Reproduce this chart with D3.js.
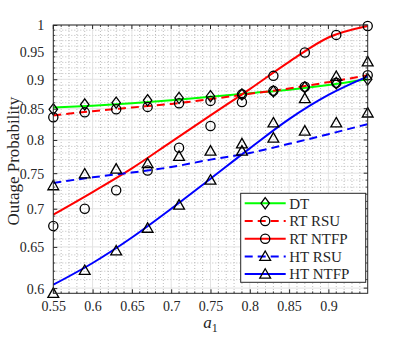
<!DOCTYPE html>
<html>
<head>
<meta charset="utf-8">
<script src="https://cdn.jsdelivr.net/npm/d3@7"></script>
<style>
  html, body { margin: 0; padding: 0; background: #fff; }
  svg { display: block; }
</style>
</head>
<body>
<svg id="chart" width="407" height="337"></svg>
<script>
// ---- Data ----
const xTicks = [0.55, 0.6, 0.65, 0.7, 0.75, 0.8, 0.85, 0.9];
const yTicks = [0.6, 0.65, 0.7, 0.75, 0.8, 0.85, 0.9, 0.95, 1];
const yTickLabels = ["0.6", "0.65", "0.7", "0.75", "0.8", "0.85", "0.9", "0.95", "1"];
const xTickLabels = ["0.55", "0.6", "0.65", "0.7", "0.75", "0.8", "0.85", "0.9"];

// theory curves
const curveX = [0.55, 0.6, 0.65, 0.7, 0.75, 0.8, 0.85, 0.9, 0.95];
const dtCurve     = [0.852, 0.855, 0.859, 0.864, 0.870, 0.876, 0.882, 0.890, 0.900];
const rtRsuCurve  = [0.839, 0.846, 0.852, 0.858, 0.866, 0.875, 0.884, 0.895, 0.907];
const rtNtfpCurve = [0.692, 0.723, 0.757, 0.797, 0.839, 0.883, 0.931, 0.976, 0.998];
const htRsuCurve  = [0.736, 0.744, 0.751, 0.759, 0.770, 0.780, 0.794, 0.809, 0.825];
const htNtfpCurve = [0.604, 0.630, 0.662, 0.700, 0.742, 0.787, 0.833, 0.873, 0.905];

// simulation points
const simX = [0.55, 0.59, 0.63, 0.67, 0.71, 0.75, 0.79, 0.83, 0.87, 0.91, 0.95];
const dtSim     = [0.849, 0.857, 0.860, 0.864, 0.868, 0.871, 0.874, 0.879, 0.886, 0.893, 0.900];
const rtRsuSim  = [0.836, 0.844, 0.849, 0.853, 0.859, 0.863, 0.861, 0.880, 0.887, 0.894, 0.907];
const rtNtfpSim = [0.677, 0.700, 0.7255, 0.754, 0.788, 0.822, 0.874, 0.906, 0.948, 0.981, 0.998];
const htRsuSim  = [0.732, 0.749, 0.756, 0.764, 0.775, 0.783, 0.794, 0.803, 0.814, 0.827, 0.843];
const htNtfpSim = [0.594, 0.621, 0.645, 0.674, 0.705, 0.740, 0.783, 0.827, 0.867, 0.905, 0.931];

const legendLabels = ["DT", "RT RSU", "RT NTFP", "HT RSU", "HT NTFP"];

// ---- Layout ----
const FONT = "'Liberation Serif', 'Times New Roman', serif";
const svg = d3.select("#chart").attr("font-family", FONT);
const L = 53.3, R = 367.7, T = 25, B = 293.3;
const x = d3.scaleLinear().domain([0.55, 0.95]).range([L, R]);
const y = d3.scaleLog().domain([0.594, 1]).range([B, T]);
const axisColor = "#262626";

const series = [
  {name: legendLabels[0], curve: dtCurve, sim: dtSim, color: "#00ff00", dash: null, marker: "diamond"},
  {name: legendLabels[1], curve: rtRsuCurve, sim: rtRsuSim, color: "#ff0000", dash: "8,5", marker: "circle"},
  {name: legendLabels[2], curve: rtNtfpCurve, sim: rtNtfpSim, color: "#ff0000", dash: null, marker: "circle"},
  {name: legendLabels[3], curve: htRsuCurve, sim: htRsuSim, color: "#0000ff", dash: "8,5", marker: "triangle"},
  {name: legendLabels[4], curve: htNtfpCurve, sim: htNtfpSim, color: "#0000ff", dash: null, marker: "triangle"}
];

// ---- Grid ----
const grid = svg.append("g");
const minorX = d3.range(56, 95).map(v => v / 100);
const minorY = d3.range(60, 101).map(v => v / 100);
const majorXSet = new Set([0.55,0.6,0.65,0.7,0.75,0.8,0.85,0.9,0.95].map(v => v.toFixed(2)));
const majorYSet = new Set(yTicks.map(v => v.toFixed(2)));

grid.selectAll(".mx").data(minorX.filter(v => !majorXSet.has(v.toFixed(2)))).enter().append("line")
  .attr("x1", d => x(d)).attr("x2", d => x(d)).attr("y1", T).attr("y2", B)
  .attr("stroke", "#bdbdbd").attr("stroke-width", 1).attr("stroke-dasharray", "1,2");
grid.selectAll(".my").data(minorY.filter(v => !majorYSet.has(v.toFixed(2)))).enter().append("line")
  .attr("y1", d => y(d)).attr("y2", d => y(d)).attr("x1", L).attr("x2", R)
  .attr("stroke", "#bdbdbd").attr("stroke-width", 1).attr("stroke-dasharray", "1,2");
grid.selectAll(".gx").data(xTicks).enter().append("line")
  .attr("x1", d => x(d)).attr("x2", d => x(d)).attr("y1", T).attr("y2", B)
  .attr("stroke", "#e3e3e3").attr("stroke-width", 1);
grid.selectAll(".gy").data(yTicks).enter().append("line")
  .attr("y1", d => y(d)).attr("y2", d => y(d)).attr("x1", L).attr("x2", R)
  .attr("stroke", "#e3e3e3").attr("stroke-width", 1);

// ---- Axes (box with inward ticks) ----
const axG = svg.append("g");
const xAxis = d3.axisBottom(x).tickValues(xTicks).tickSizeInner(-4).tickSizeOuter(0)
  .tickFormat((d, i) => xTickLabels[i]).tickPadding(8);
const yAxis = d3.axisLeft(y).tickValues(yTicks).tickSizeInner(-4).tickSizeOuter(0)
  .tickFormat((d, i) => yTickLabels[i]).tickPadding(9);

const gx = axG.append("g").attr("transform", `translate(0,${B})`).call(xAxis);
const gy = axG.append("g").attr("transform", `translate(${L},0)`).call(yAxis);
[gx, gy].forEach(g => {
  g.attr("font-family", FONT).attr("font-size", 14);
  g.select(".domain").remove();
  g.selectAll("line").attr("stroke", axisColor);
  g.selectAll("text").attr("fill", axisColor).attr("font-family", FONT).attr("font-size", 14);
});
gy.selectAll("text").attr("dy", "0.35em");

// top/right ticks
axG.selectAll(".tt").data(xTicks).enter().append("line")
  .attr("x1", d => x(d)).attr("x2", d => x(d)).attr("y1", T).attr("y2", T + 4).attr("stroke", axisColor);
axG.selectAll(".rt").data(yTicks).enter().append("line")
  .attr("y1", d => y(d)).attr("y2", d => y(d)).attr("x1", R).attr("x2", R - 4).attr("stroke", axisColor);
// minor ticks
const minorXt = minorX.filter(v => !majorXSet.has(v.toFixed(2)));
const minorYt = minorY.filter(v => !majorYSet.has(v.toFixed(2)));
[[B, -2], [T, 2]].forEach(([yy, dd]) => {
  axG.append("g").selectAll("line").data(minorXt).enter().append("line")
    .attr("x1", d => x(d)).attr("x2", d => x(d)).attr("y1", yy).attr("y2", yy + dd)
    .attr("stroke", axisColor).attr("stroke-width", 0.8);
});
[[L, 2], [R, -2]].forEach(([xx, dd]) => {
  axG.append("g").selectAll("line").data(minorYt).enter().append("line")
    .attr("y1", d => y(d)).attr("y2", d => y(d)).attr("x1", xx).attr("x2", xx + dd)
    .attr("stroke", axisColor).attr("stroke-width", 0.8);
});

// ---- Curves ----
const plot = svg.append("g");
const lineGen = d3.line().x(d => x(d[0])).y(d => y(d[1])).curve(d3.curveMonotoneX);
series.forEach(s => {
  plot.append("path")
    .datum(curveX.map((v, i) => [v, s.curve[i]]))
    .attr("d", lineGen)
    .attr("fill", "none").attr("stroke", s.color).attr("stroke-width", 2)
    .attr("stroke-dasharray", s.dash);
});

// ---- Markers ----
function drawMarker(g, type, cx, cy) {
  if (type === "circle") {
    g.append("circle").attr("cx", cx).attr("cy", cy).attr("r", 4.6)
      .attr("fill", "none").attr("stroke", "#000").attr("stroke-width", 1.3);
  } else if (type === "triangle") {
    const h = 5.4;
    g.append("path").attr("d", `M${cx},${cy - h}L${cx + h},${cy + h * 0.75}L${cx - h},${cy + h * 0.75}Z`)
      .attr("fill", "none").attr("stroke", "#000").attr("stroke-width", 1.3);
  } else {
    const w = 4.2, h = 5.6;
    g.append("path").attr("d", `M${cx},${cy - h}L${cx + w},${cy}L${cx},${cy + h}L${cx - w},${cy}Z`)
      .attr("fill", "none").attr("stroke", "#000").attr("stroke-width", 1.3);
  }
}
series.forEach(s => {
  const g = plot.append("g");
  simX.forEach((v, i) => drawMarker(g, s.marker, x(v), y(s.sim[i])));
});

// axis box
svg.append("rect").attr("x", L).attr("y", T).attr("width", R - L).attr("height", B - T)
  .attr("fill", "none").attr("stroke", axisColor).attr("stroke-width", 1);

// ---- Labels ----
svg.append("text").attr("transform", `translate(19,${(T + B) / 2 + 2}) rotate(-90)`)
  .attr("text-anchor", "middle").attr("font-size", 17).attr("font-family", FONT).attr("fill", axisColor)
  .text("Outage Probability");
const xl = svg.append("text").attr("x", (L + R) / 2).attr("y", 328)
  .attr("text-anchor", "middle").attr("font-size", 17).attr("font-family", FONT).attr("fill", axisColor);
xl.append("tspan").attr("font-style", "italic").text("a");
xl.append("tspan").attr("dy", 4).attr("font-size", 12).text("1");

// ---- Legend ----
const lg = svg.append("g");
const lx = 240.7, ly = 193.3, lw = 125, lh = 89;
lg.append("rect").attr("x", lx).attr("y", ly).attr("width", lw).attr("height", lh)
  .attr("fill", "#fff").attr("stroke", axisColor).attr("stroke-width", 1);
series.forEach((s, i) => {
  const yy = ly + 10 + i * 17.7;
  lg.append("line").attr("x1", lx + 4).attr("x2", lx + 45).attr("y1", yy).attr("y2", yy)
    .attr("stroke", s.color).attr("stroke-width", 2).attr("stroke-dasharray", s.dash);
  drawMarker(lg, s.marker, lx + 24.5, yy);
  lg.append("text").attr("x", lx + 48.5).attr("y", yy).attr("dy", "0.35em")
    .attr("font-size", 15).attr("font-family", FONT).attr("fill", axisColor).text(s.name);
});
</script>
</body>
</html>
